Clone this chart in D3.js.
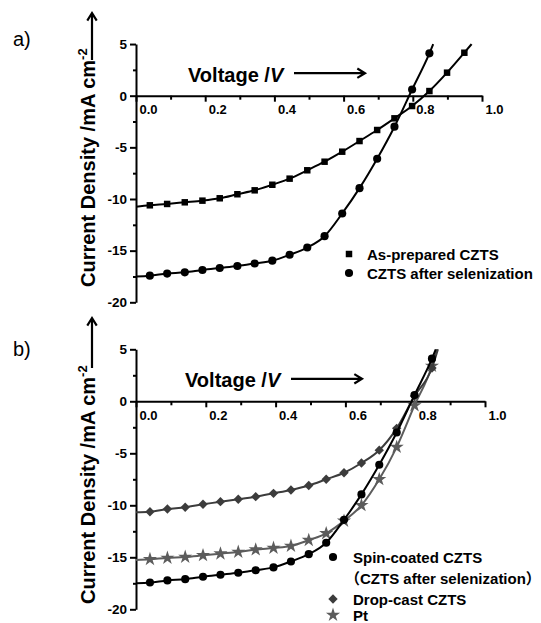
<!DOCTYPE html>
<html>
<head>
<meta charset="utf-8">
<script src="https://cdn.jsdelivr.net/npm/d3@7"></script>
<style>
  body { margin: 0; background: #fff; }
  text { font-family: "Liberation Sans", Arial, "Noto Sans CJK SC", sans-serif; }
</style>
</head>
<body>
<div id="chart"></div>
<script>
// voltage of each measured point (V)
var voltage = [0.040, 0.090, 0.141, 0.192, 0.242, 0.293, 0.343, 0.394, 0.444, 0.495,
               0.545, 0.596, 0.646, 0.697, 0.747, 0.798, 0.848, 0.899, 0.949]

// current density of each series (mA cm-2)
var asPrepared = [-10.61, -10.48, -10.32, -10.16, -9.93, -9.54, -9.16, -8.62, -8.03, -7.22,
                  -6.39, -5.42, -4.39, -3.32, -2.19, -1.00, 0.45, 2.23, 4.16]
var selenized  = [-17.42, -17.22, -17.10, -16.87, -16.68, -16.49, -16.24, -15.97, -15.40, -14.70,
                  -13.60, -11.40, -8.95, -6.10, -3.00, 0.60, 4.10]
var dropCast   = [-10.62, -10.36, -10.19, -9.90, -9.65, -9.42, -9.17, -8.85, -8.53, -8.10,
                  -7.50, -6.87, -5.93, -4.70, -2.60, 0.50, 3.20]
var platinum   = [-15.19, -15.06, -14.97, -14.81, -14.65, -14.49, -14.26, -14.10, -13.91, -13.35,
                  -12.70, -11.50, -10.00, -7.50, -4.40, -0.40, 3.40]

// fitted lines: value at 0 V, and the voltage where they reach 5 mA cm-2
var asPreparedFit = [[0, -10.75], [0.970, 5]]
var selenizedFit  = [[0, -17.50], [0.859, 5]]
var dropCastFit   = [[0, -10.67], [0.865, 5]]
var platinumFit   = [[0, -15.26], [0.862, 5]]

// axes
var xTicks = [0, 0.2, 0.4, 0.6, 0.8, 1.0]
var xMinor = [0.1, 0.3, 0.5, 0.7, 0.9]
var yTicks = [5, 0, -5, -10, -15, -20]
var yMinor = [2.5, -2.5, -7.5, -12.5, -17.5]

var width = 541,
    height = 623

var svg = d3.select("#chart")
  .append("svg")
    .attr("width", width)
    .attr("height", height)

svg.append("rect").attr("width", width).attr("height", height).attr("fill", "#fff")

// symbols
var square = d3.symbol().type(d3.symbolSquare).size(42)
var circle = d3.symbol().type(d3.symbolCircle).size(52)
var diamond = d3.symbol().type(d3.symbolSquare).size(44)
var star = d3.symbol().type(d3.symbolStar).size(62)

function drawArrow(g, x1, y1, x2, y2) {
  var a = Math.atan2(y2 - y1, x2 - x1), h = 9, w = 0.55
  g.append("path")
    .attr("d", "M" + x1 + "," + y1 + "L" + x2 + "," + y2 +
      "M" + (x2 - h * Math.cos(a - w)) + "," + (y2 - h * Math.sin(a - w)) +
      "L" + x2 + "," + y2 +
      "L" + (x2 - h * Math.cos(a + w)) + "," + (y2 - h * Math.sin(a + w)))
    .attr("fill", "none")
    .attr("stroke", "#000")
    .attr("stroke-width", 2.2)
}

function drawPanel(p) {
  var x = d3.scaleLinear().domain([0, 1]).range([p.left, p.right])
  var y = d3.scaleLinear().domain([5, -20]).range([p.top, p.bottom])
  var g = svg.append("g")

  // x axis through J = 0
  var xAxis = g.append("g")
    .attr("transform", "translate(0," + y(0) + ")")
    .call(d3.axisBottom(x).tickValues(xTicks).tickSize(6).tickSizeOuter(0)
      .tickFormat(d3.format(".1f")))
  xAxis.selectAll("text")
    .attr("text-anchor", "start")
    .attr("x", 3)
    .attr("y", 9)
    .style("font-size", "13px")
    .style("font-weight", "bold")
  g.append("g")
    .attr("transform", "translate(0," + y(0) + ")")
    .call(d3.axisBottom(x).tickValues(xMinor).tickSize(4).tickSizeOuter(0).tickFormat(""))
    .select(".domain").remove()

  // y axis
  var yAxis = g.append("g")
    .attr("transform", "translate(" + x(0) + ",0)")
    .call(d3.axisLeft(y).tickValues(yTicks).tickSize(6).tickPadding(3).tickSizeOuter(0)
      .tickFormat(function(d) { return String(d) }))
  yAxis.selectAll("text")
    .style("font-size", "13.5px")
    .style("font-weight", "bold")
  g.append("g")
    .attr("transform", "translate(" + x(0) + ",0)")
    .call(d3.axisLeft(y).tickValues(yMinor).tickSize(3).tickSizeOuter(0).tickFormat(""))
    .select(".domain").remove()

  g.selectAll(".domain").attr("stroke-width", 2)
  g.selectAll(".tick line").attr("stroke-width", 2)

  // series
  var line = d3.line()
    .x(function(d) { return x(d[0]) })
    .y(function(d) { return y(d[1]) })
    .curve(d3.curveMonotoneX)

  p.series.forEach(function(s) {
    var pts = s.values.map(function(v, i) { return [voltage[i], v] })
    var fit = [s.fit[0]].concat(pts).concat([s.fit[1]])
    g.append("path")
      .attr("d", line(fit))
      .attr("fill", "none")
      .attr("stroke", s.color)
      .attr("stroke-width", 2)
    g.selectAll(null)
      .data(pts)
      .enter()
      .append("path")
      .attr("d", s.symbol)
      .attr("transform", function(d) {
        return "translate(" + x(d[0]) + "," + y(d[1]) + ")" + (s.rotate ? " rotate(45)" : "")
      })
      .attr("fill", s.color)
  })

  // legend
  p.legend.forEach(function(l) {
    if (l.symbol) {
      g.append("path")
        .attr("d", l.symbol)
        .attr("transform", "translate(" + p.legendX + "," + l.y + ")" + (l.rotate ? " rotate(45)" : ""))
        .attr("fill", l.color)
    }
    g.append("text")
      .attr("x", p.legendX + p.legendGap + (l.dx || 0))
      .attr("y", l.y + 5.5)
      .style("font-size", "15px")
      .style("font-weight", "bold")
      .text(l.label)
  })

  // panel letter
  g.append("text")
    .attr("x", 13)
    .attr("y", p.letterY)
    .style("font-size", "20px")
    .text(p.letter)

  // Voltage label with arrow
  var vl = g.append("text")
    .attr("x", p.voltX)
    .attr("y", y(0) - 14)
    .style("font-size", "20px")
    .style("font-weight", "bold")
  vl.append("tspan").text("Voltage /")
  vl.append("tspan").style("font-style", "italic").text("V")
  drawArrow(g, p.voltX + 106, y(0) - 22.5, p.voltX + 177, y(0) - 22.5)

  // Current density label with arrow
  var cl = g.append("text")
    .attr("transform", "translate(95," + p.curBottom + ") rotate(-90)")
    .style("font-size", "20px")
    .style("font-weight", "bold")
  cl.append("tspan").text("Current Density /mA cm")
  cl.append("tspan").attr("dy", -8).style("font-size", "13px").text("-2")
  drawArrow(g, 92, p.arrowBottom, 92, p.arrowTop)
}

drawPanel({
  letter: "a)", letterY: 46,
  left: 136, right: 482, top: 44.05, bottom: 302.3,
  voltX: 188, curBottom: 287, arrowBottom: 60, arrowTop: 13,
  series: [
    {values: asPrepared, fit: asPreparedFit, symbol: square, color: "#000"},
    {values: selenized, fit: selenizedFit, symbol: circle, color: "#000"}
  ],
  legendX: 349, legendGap: 18,
  legend: [
    {y: 254, symbol: square, color: "#000", label: "As-prepared CZTS"},
    {y: 273, symbol: circle, color: "#000", label: "CZTS after selenization"}
  ]
})

drawPanel({
  letter: "b)", letterY: 356,
  left: 136, right: 485, top: 349.3, bottom: 609.3,
  voltX: 185, curBottom: 604, arrowBottom: 368, arrowTop: 318,
  series: [
    {values: platinum, fit: platinumFit, symbol: star, color: "#5c5c5c"},
    {values: dropCast, fit: dropCastFit, symbol: diamond, color: "#3c3c3c", rotate: true},
    {values: selenized, fit: selenizedFit, symbol: circle, color: "#000"}
  ],
  legendX: 333, legendGap: 20,
  legend: [
    {y: 557, symbol: circle, color: "#000", label: "Spin-coated CZTS"},
    {y: 578, dx: -8, label: "（CZTS after selenization）"},
    {y: 599, symbol: diamond, color: "#3c3c3c", rotate: true, label: "Drop-cast CZTS"},
    {y: 615, symbol: star, color: "#5c5c5c", label: "Pt"}
  ]
})
</script>
</body>
</html>
